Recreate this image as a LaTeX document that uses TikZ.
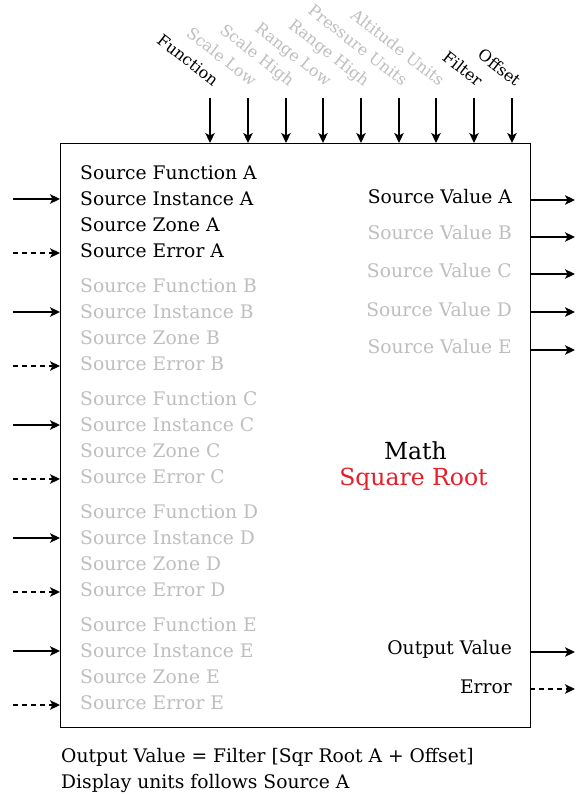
\documentclass[tikz,border=0pt]{standalone}
\usepackage{fontspec}
\setmainfont{DejaVu Serif}
\usetikzlibrary{arrows.meta}
\definecolor{dim}{RGB}{190,190,190}
\definecolor{sqred}{RGB}{230,30,40}
\tikzset{
  lbl/.style={font=\fontsize{18.7}{21}\selectfont, inner sep=0pt},
  ltxt/.style={lbl, anchor=base west},
  rtxt/.style={lbl, anchor=base east},
  toptxt/.style={lbl, font=\fontsize{16}{18}\selectfont, rotate=-38, anchor=base east},
  bigtxt/.style={lbl, font=\fontsize{23.5}{26}\selectfont, anchor=base},
  arr/.style={-{Stealth[length=10pt,width=9.5pt,inset=2.5pt]}, line width=1.2pt},
  darr/.style={arr, dash pattern=on 5pt off 4pt},
}
\begin{document}
\begin{tikzpicture}[x=1pt,y=-1pt]
\useasboundingbox (0,0) rectangle (578,795);
\node[draw, line width=1.2pt, minimum width=470pt, minimum height=584pt, inner sep=0pt, anchor=north west] (box) at (60,143) {};
% top inputs
\foreach \i/\x/\t/\c in {1/210/Function/black,2/248/Scale Low/dim,3/286/Scale High/dim,4/323/Range Low/dim,5/361/Range High/dim,6/399/Pressure Units/dim,7/436/Altitude Units/dim,8/474/Filter/black,9/512/Offset/black}{
  \coordinate (t\i) at (\x,98);
  \coordinate (tb\i) at (\x,143);
  \draw[arr] (t\i) -- (tb\i);
  \node[toptxt, text=\c] (tl\i) at (\x+3,87) {\t};
}
% left inputs
\foreach \g/\y/\L/\c in {0/0/A/black,1/113/B/dim,2/226/C/dim,3/339/D/dim,4/452/E/dim}{
  \node[ltxt, text=\c] (fn\L) at (80,179+\y) {Source Function \L};
  \node[ltxt, text=\c] (in\L) at (80,205+\y) {Source Instance \L};
  \node[ltxt, text=\c] (zn\L) at (80,231+\y) {Source Zone \L};
  \node[ltxt, text=\c] (er\L) at (80,257+\y) {Source Error \L};
  \coordinate (ia\L) at (13,199+\y);
  \coordinate (ib\L) at (60,199+\y);
  \coordinate (ea\L) at (13,253+\y);
  \coordinate (eb\L) at (60,253+\y);
  \draw[arr] (ia\L) -- (ib\L);
  \draw[darr] (ea\L) -- (eb\L);
}
% right outputs
\foreach \L/\y/\ty/\c in {A/200/203/black,B/237/239/dim,C/274/277/dim,D/312/316/dim,E/350/353/dim}{
  \node[rtxt, text=\c] (sv\L) at (512,\ty) {Source Value \L};
  \coordinate (oa\L) at (530,\y);
  \coordinate (ob\L) at (575,\y);
  \draw[arr] (oa\L) -- (ob\L);
}
\node[rtxt] (ov) at (512,654) {Output Value};
\node[rtxt] (err) at (512,693) {Error};
\coordinate (ova) at (530,652); \coordinate (ovb) at (575,652);
\coordinate (era) at (530,689); \coordinate (erb) at (575,689);
\draw[arr] (ova) -- (ovb);
\draw[darr] (era) -- (erb);
% center
\node[bigtxt] (math) at (415.5,459) {Math};
\node[bigtxt, text=sqred] (sq) at (413.5,485) {Square Root};
% bottom
\node[ltxt] (n1) at (61,762) {Output Value = Filter [Sqr Root A + Offset]};
\node[ltxt] (n2) at (61,788) {Display units follows Source A};
\end{tikzpicture}
\end{document}
